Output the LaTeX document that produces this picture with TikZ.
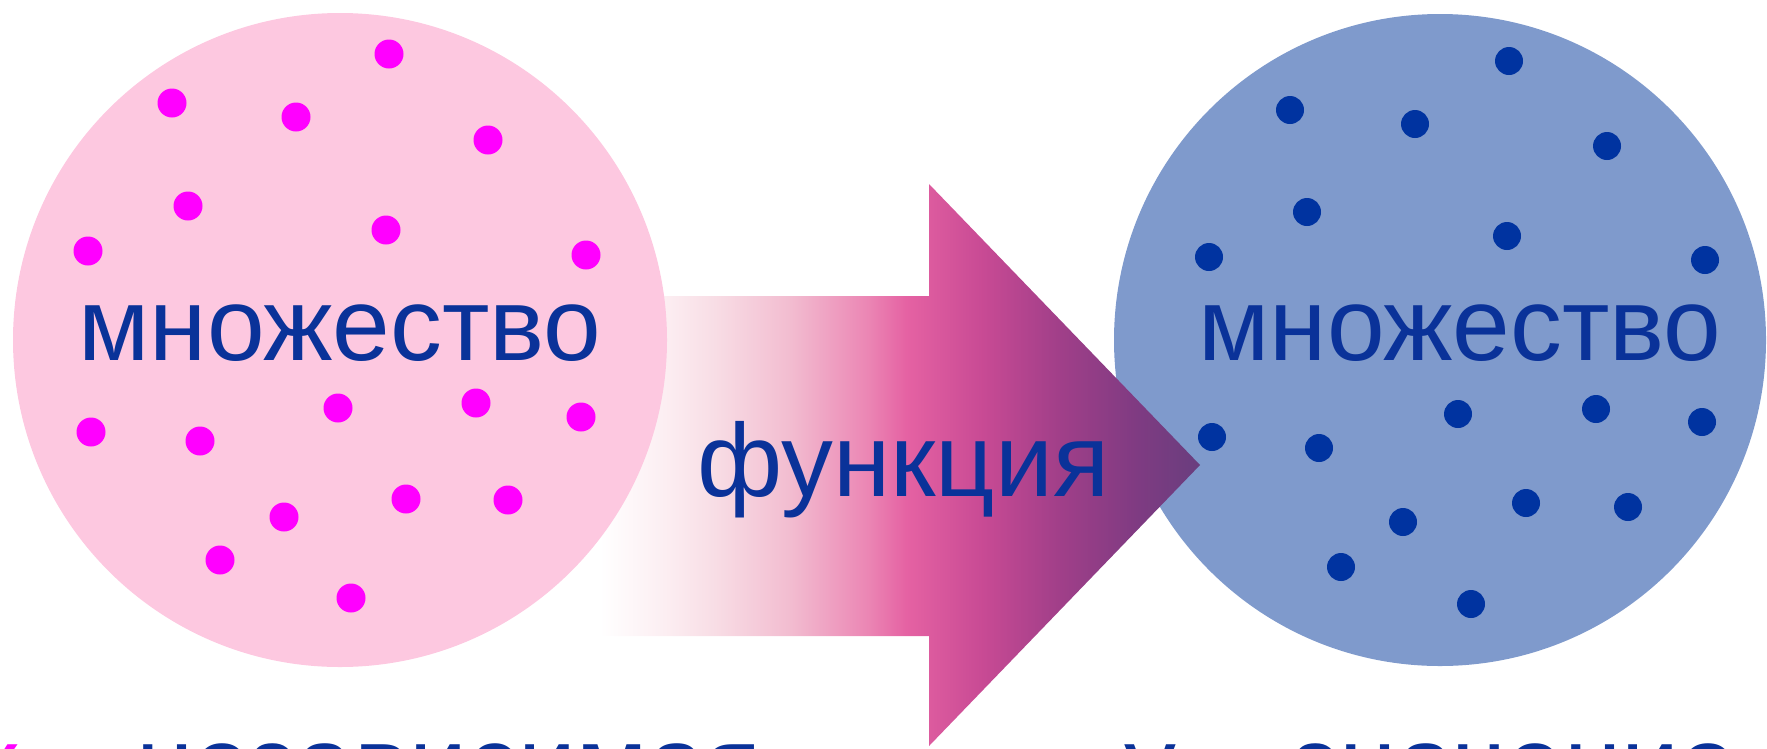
\documentclass[tikz,border=0pt]{standalone}
\usepackage{fontspec}
\setmainfont{Liberation Sans}
\definecolor{pinkset}{HTML}{FDC8E0}
\definecolor{blueset}{HTML}{7F9ACC}
\definecolor{darkset}{HTML}{0A3299}
\definecolor{pinkdotc}{HTML}{FF00FF}
\definecolor{bluedot}{HTML}{0033A0}
\definecolor{fa}{HTML}{FCEEF2}
\definecolor{fb}{HTML}{F8DDE5}
\definecolor{fc}{HTML}{F2BCD0}
\definecolor{fd}{HTML}{EB86B4}
\definecolor{fe}{HTML}{E562A3}
\definecolor{ff}{HTML}{C84A94}
\definecolor{fg}{HTML}{A13F89}
\definecolor{fh}{HTML}{7F3B82}
\definecolor{fi}{HTML}{693E7E}
\pgfdeclarehorizontalshading{funcshade}{100bp}{color(0bp)=(white); color(25bp)=(white); color(30.4bp)=(fa); color(34.6bp)=(fb); color(40.9bp)=(fc); color(47.3bp)=(fd); color(50.5bp)=(fe); color(56.9bp)=(ff); color(63.2bp)=(fg); color(69.7bp)=(fh); color(75bp)=(fi); color(100bp)=(fi)}
\tikzset{
	word/.style={font=\fontsize{59}{62}\selectfont, text=darkset, inner sep=0pt},
	pinkdot/.style={fill=pinkdotc},
	bluedots/.style={fill=bluedot}
}

\begin{document}
\begin{tikzpicture}[x=0.02cm, y=-0.02cm]
		\useasboundingbox (0,0) rectangle (1767,748);
		\clip (0,0) rectangle (1767,748);
		
		\fill [blueset](1440,340) circle (326);
		\shade [shading=funcshade](600,296)--(929,296)--(929,184)--(1200,465)--(929,746)--(929,636)--(600,636)--cycle;
		\fill [pinkset](340,340) circle (327);
		
		\fill [pinkdot](389,54) circle (14.5);
		\fill [pinkdot](172,103) circle (14.5);
		\fill [pinkdot](296,117) circle (14.5);
		\fill [pinkdot](488,140) circle (14.5);
		\fill [pinkdot](188,206) circle (14.5);
		\fill [pinkdot](386,230) circle (14.5);
		\fill [pinkdot](88,251) circle (14.5);
		\fill [pinkdot](586,255) circle (14.5);
		\fill [pinkdot](338,408) circle (14.5);
		\fill [pinkdot](476,403) circle (14.5);
		\fill [pinkdot](581,417) circle (14.5);
		\fill [pinkdot](91,432) circle (14.5);
		\fill [pinkdot](200,441) circle (14.5);
		\fill [pinkdot](406,499) circle (14.5);
		\fill [pinkdot](508,500) circle (14.5);
		\fill [pinkdot](284,517) circle (14.5);
		\fill [pinkdot](220,560) circle (14.5);
		\fill [pinkdot](351,598) circle (14.5);
		
		\fill [bluedots](1509,61) circle (14);
		\fill [bluedots](1290,110) circle (14);
		\fill [bluedots](1415,124) circle (14);
		\fill [bluedots](1607,146) circle (14);
		\fill [bluedots](1307,212) circle (14);
		\fill [bluedots](1507,236) circle (14);
		\fill [bluedots](1209,257) circle (14);
		\fill [bluedots](1705,260) circle (14);
		\fill [bluedots](1458,414) circle (14);
		\fill [bluedots](1596,409) circle (14);
		\fill [bluedots](1702,422) circle (14);
		\fill [bluedots](1212,437) circle (14);
		\fill [bluedots](1319,448) circle (14);
		\fill [bluedots](1526,503) circle (14);
		\fill [bluedots](1628,507) circle (14);
		\fill [bluedots](1403,522) circle (14);
		\fill [bluedots](1341,567) circle (14);
		\fill [bluedots](1471,604) circle (14);
		
		\node [word, anchor=base] (setX) at (340,360) {множество};
		\node [word, anchor=base] (setY) at (1460,360) {множество};
		\node [word, anchor=base] (func) at (903,496) {функция};
		
		\node [word, anchor=base west] (argX) at (136,799) {независимая};
		\node [word, anchor=base east, text=pinkdotc] (varX) at ([xshift=-0.58cm]argX.base west) {x –};
		\node [word, anchor=base west] (valY) at (1292,799) {значение};
		\node [word, anchor=base east] (varY) at ([xshift=-0.58cm]valY.base west) {y –};
	
	\end{tikzpicture}
\end{document}
